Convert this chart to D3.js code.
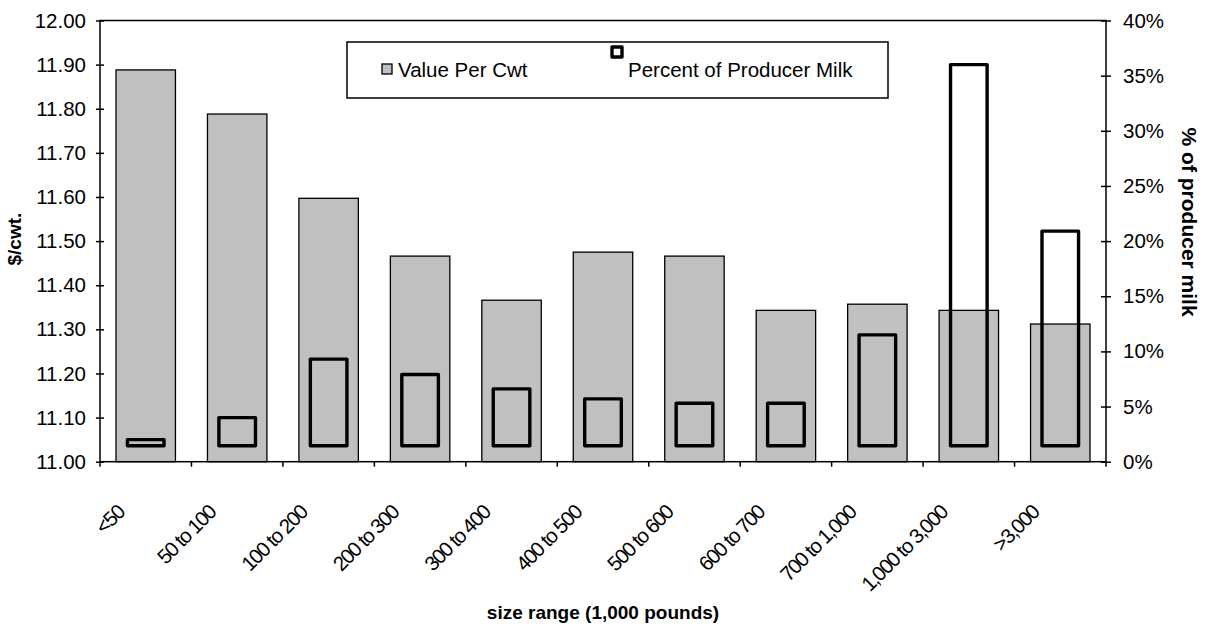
<!DOCTYPE html>
<html>
<head>
<meta charset="utf-8">
<script src="https://cdn.jsdelivr.net/npm/d3@7"></script>
<style>
  html, body { margin: 0; padding: 0; background: #fff; }
  svg { display: block; font-family: Arial, "Liberation Sans", sans-serif; }
</style>
</head>
<body>
<svg id="chart" width="1206" height="641"></svg>
<script>
// ---- data ----
const categories = ["<50", "50 to 100", "100 to 200", "200 to 300", "300 to 400", "400 to 500",
                    "500 to 600", "600 to 700", "700 to 1,000", "1,000 to 3,000", ">3,000"];
const valuePerCwt = [11.888, 11.788, 11.597, 11.466, 11.366, 11.475, 11.466, 11.343, 11.357, 11.343, 11.312];
const percentProducerMilk = [2.0, 4.0, 9.3, 7.9, 6.6, 5.7, 5.3, 5.3, 11.5, 36.0, 20.9];
const percentBase = 1.45;
const leftTicks = [11.0, 11.1, 11.2, 11.3, 11.4, 11.5, 11.6, 11.7, 11.8, 11.9, 12.0];
const rightTicks = [0, 5, 10, 15, 20, 25, 30, 35, 40];
const seriesNames = ["Value Per Cwt", "Percent of Producer Milk"];

// ---- layout ----
const svg = d3.select("#chart");
const L = 100, R = 1106, T = 20.5, B = 461.7;
const FONT = "Arial, 'Liberation Sans', sans-serif";

const x = d3.scaleBand().domain(categories).range([L, R]).padding(0);
const yL = d3.scaleLinear().domain([11, 12]).range([B, T]);
const yR = d3.scaleLinear().domain([0, 40]).range([B, T]);
const bw = x.bandwidth();

// gray bars
svg.append("g").selectAll("rect").data(categories).join("rect")
  .attr("x", (d) => x(d) + bw / 2 - bw * 0.325)
  .attr("width", bw * 0.65)
  .attr("y", (d, i) => yL(valuePerCwt[i]))
  .attr("height", (d, i) => B - yL(valuePerCwt[i]))
  .attr("fill", "#c0c0c0")
  .attr("stroke", "#000")
  .attr("stroke-width", 1.3);

// outline bars (percent)
svg.append("g").selectAll("rect").data(categories).join("rect")
  .attr("x", (d) => x(d) + bw / 2 - bw * 0.2)
  .attr("width", bw * 0.4)
  .attr("y", (d, i) => yR(percentProducerMilk[i]))
  .attr("height", (d, i) => yR(percentBase) - yR(percentProducerMilk[i]))
  .attr("fill", "none")
  .attr("stroke", "#000")
  .attr("stroke-width", 3.4)
  .attr("stroke-linejoin", "round");

// plot frame
svg.append("rect")
  .attr("x", L).attr("y", T).attr("width", R - L).attr("height", B - T)
  .attr("fill", "none").attr("stroke", "#000").attr("stroke-width", 1.5);

// left axis
const axL = svg.append("g").attr("transform", `translate(${L},0)`)
  .call(d3.axisLeft(yL).tickValues(leftTicks).tickFormat(d3.format(".2f")).tickSize(4).tickPadding(10));
axL.select(".domain").remove();
axL.selectAll(".tick line").attr("x1", 4).attr("x2", -4).attr("stroke-width", 1.5);
axL.selectAll("text").attr("font-size", 20.5).attr("fill", "#000").attr("font-family", FONT);

// right axis
const axR = svg.append("g").attr("transform", `translate(${R},0)`)
  .call(d3.axisRight(yR).tickValues(rightTicks).tickFormat((d) => d + "%").tickSize(5).tickPadding(12));
axR.select(".domain").remove();
axR.selectAll(".tick line").attr("x1", -5).attr("x2", 5).attr("stroke-width", 1.5);
axR.selectAll("text").attr("font-size", 20.5).attr("fill", "#000").attr("font-family", FONT);

// bottom axis: ticks at band boundaries
const boundaries = categories.map((d) => x(d)).concat([R]);
svg.append("g").selectAll("line").data(boundaries).join("line")
  .attr("x1", (d) => d).attr("x2", (d) => d)
  .attr("y1", B).attr("y2", B + 5)
  .attr("stroke", "#000").attr("stroke-width", 1.5);

// x labels rotated
svg.append("g").selectAll("text").data(categories).join("text")
  .attr("transform", (d) => `translate(${x(d) + bw / 2 - 20},${B + 52}) rotate(-45)`)
  .attr("text-anchor", "end")
  .attr("font-size", 20.5)
  .attr("letter-spacing", -1.4)
  .text((d) => d);

// axis titles
svg.append("text")
  .attr("transform", `translate(21,${(T + B) / 2 - 2}) rotate(-90)`)
  .attr("text-anchor", "middle")
  .attr("font-size", 19).attr("font-weight", "bold")
  .text("$/cwt.");
svg.append("text")
  .attr("transform", `translate(1182,${(T + B) / 2 - 19}) rotate(90)`)
  .attr("text-anchor", "middle")
  .attr("font-size", 21).attr("font-weight", "bold")
  .text("% of producer milk");
svg.append("text")
  .attr("x", (L + R) / 2).attr("y", 619)
  .attr("text-anchor", "middle")
  .attr("font-size", 19).attr("font-weight", "bold")
  .text("size range (1,000 pounds)");

// legend
const lg = svg.append("g");
lg.append("rect").attr("x", 347).attr("y", 42).attr("width", 541).attr("height", 56)
  .attr("fill", "#fff").attr("stroke", "#000").attr("stroke-width", 1.5);
lg.append("rect").attr("x", 382).attr("y", 64).attr("width", 10).attr("height", 10)
  .attr("fill", "#c0c0c0").attr("stroke", "#000").attr("stroke-width", 1.3);
lg.append("text").attr("x", 398).attr("y", 77).attr("font-size", 20.5).text(seriesNames[0]);
lg.append("rect").attr("x", 612).attr("y", 47).attr("width", 10).attr("height", 10)
  .attr("fill", "#fff").attr("stroke", "#000").attr("stroke-width", 3.4)
  .attr("stroke-linejoin", "round");
lg.append("text").attr("x", 628).attr("y", 77).attr("font-size", 20.5).text(seriesNames[1]);
</script>
</body>
</html>
